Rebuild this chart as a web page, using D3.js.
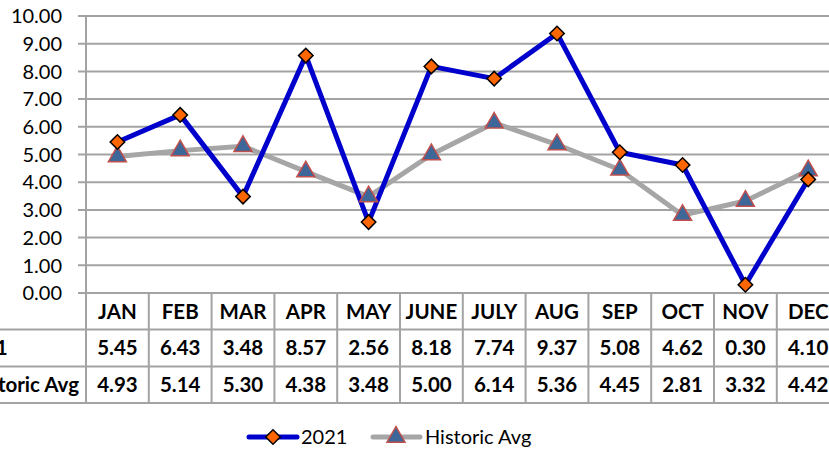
<!DOCTYPE html>
<html><head><meta charset="utf-8">
<script src="https://cdn.jsdelivr.net/npm/d3@7"></script>
<style>body{margin:0;background:#fff}svg{display:block}</style>
</head><body>
<svg id="c" width="829" height="450"></svg>
<script>
const categories = ["JAN","FEB","MAR","APR","MAY","JUNE","JULY","AUG","SEP","OCT","NOV","DEC"];
const values2021 = [5.45,6.43,3.48,8.57,2.56,8.18,7.74,9.37,5.08,4.62,0.30,4.10];
const valuesHist = [4.93,5.14,5.30,4.38,3.48,5.00,6.14,5.36,4.45,2.81,3.32,4.42];
const yTicks = [0,1,2,3,4,5,6,7,8,9,10];
const seriesNames = ["2021","Historic Avg"];

const svg = d3.select("#c");
const font = "Lato, 'Open Sans', sans-serif";
const grid = "#a3a3a3";
const left = 86, colW = 62.8;
const x = d3.scaleBand().domain(categories).range([left, left + colW*categories.length]);
const y = d3.scaleLinear().domain([0,10]).range([293,16]);

// gridlines
svg.append("g").selectAll("line").data(yTicks).join("line")
  .attr("x1",78).attr("x2",829).attr("y1",d=>y(d)).attr("y2",d=>y(d))
  .attr("stroke",grid).attr("stroke-width",2);
// y axis
svg.append("line").attr("x1",left).attr("x2",left).attr("y1",y(10)).attr("y2",403)
  .attr("stroke",grid).attr("stroke-width",2);
svg.append("g").selectAll("text").data(yTicks).join("text")
  .attr("x",62).attr("y",d=>y(d)).attr("dy","0.36em").attr("text-anchor","end")
  .attr("font-family",font).attr("font-size",20).attr("fill","#000")
  .text(d=>d3.format(".2f")(d));

// table
const rowY = [293,329.5,366.5,403];
svg.append("g").selectAll("line").data(rowY.slice(1)).join("line")
  .attr("x1",0).attr("x2",829).attr("y1",d=>d).attr("y2",d=>d)
  .attr("stroke",grid).attr("stroke-width",2);
svg.append("g").selectAll("line").data(categories).join("line")
  .attr("x1",d=>x(d)+colW).attr("x2",d=>x(d)+colW).attr("y1",293).attr("y2",403)
  .attr("stroke",grid).attr("stroke-width",2);
const tg = svg.append("g").attr("font-family",font).attr("font-weight","bold").attr("font-size",20.5).attr("text-anchor","middle");
tg.selectAll(".h").data(categories).join("text").attr("class","h")
  .attr("x",d=>x(d)+colW/2).attr("y",(rowY[0]+rowY[1])/2).attr("dy","0.36em").text(d=>d);
tg.selectAll(".a").data(values2021).join("text").attr("class","a")
  .attr("x",(d,i)=>x(categories[i])+colW/2).attr("y",(rowY[1]+rowY[2])/2).attr("dy","0.36em").text(d=>d.toFixed(2));
tg.selectAll(".b").data(valuesHist).join("text").attr("class","b")
  .attr("x",(d,i)=>x(categories[i])+colW/2).attr("y",(rowY[2]+rowY[3])/2).attr("dy","0.36em").text(d=>d.toFixed(2));
const hl = tg.append("text").attr("text-anchor","end").attr("x",79).attr("y",(rowY[2]+rowY[3])/2).attr("dy","0.36em").text(seriesNames[1]);
const startX = 79 - hl.node().getComputedTextLength() - 8;
tg.append("text").attr("text-anchor","start").attr("x",startX).attr("y",(rowY[1]+rowY[2])/2).attr("dy","0.36em").text(seriesNames[0]);

// lines
const cx = d=>x(d)+colW/2;
const line = d3.line().x((d,i)=>cx(categories[i])).y(d=>y(d));
svg.append("path").datum(valuesHist).attr("d",line).attr("fill","none").attr("stroke","#a6a6a6").attr("stroke-width",5).attr("stroke-linejoin","round");
svg.append("path").datum(values2021).attr("d",line).attr("fill","none").attr("stroke","#0000cc").attr("stroke-width",5).attr("stroke-linejoin","round");
const tri = d3.symbol().type(d3.symbolTriangle).size(140);
const dia = d3.symbol().type(d3.symbolSquare).size(105);
svg.append("g").selectAll("path").data(valuesHist).join("path")
  .attr("d",tri).attr("transform",(d,i)=>`translate(${cx(categories[i])},${y(d)})`)
  .attr("fill","#3d6699").attr("stroke","#c0504d").attr("stroke-width",1.5);
svg.append("g").selectAll("path").data(values2021).join("path")
  .attr("d",dia).attr("transform",(d,i)=>`translate(${cx(categories[i])},${y(d)}) rotate(45)`)
  .attr("fill","#ff6600").attr("stroke","#000").attr("stroke-width",1.5);

// legend
const lg = svg.append("g").attr("font-family",font).attr("font-size",20);
lg.append("line").attr("x1",249).attr("x2",297).attr("y1",437).attr("y2",437).attr("stroke","#0000cc").attr("stroke-width",5).attr("stroke-linecap","round");
lg.append("path").attr("d",dia).attr("transform","translate(273,437) rotate(45)").attr("fill","#ff6600").attr("stroke","#000").attr("stroke-width",1.5);
lg.append("text").attr("x",301).attr("y",437).attr("dy","0.36em").text(seriesNames[0]);
lg.append("line").attr("x1",373).attr("x2",420).attr("y1",437).attr("y2",437).attr("stroke","#a6a6a6").attr("stroke-width",5).attr("stroke-linecap","round");
lg.append("path").attr("d",tri).attr("transform","translate(396,437)").attr("fill","#3d6699").attr("stroke","#c0504d").attr("stroke-width",1.5);
lg.append("text").attr("x",425).attr("y",437).attr("dy","0.36em").text(seriesNames[1]);
</script>
</body></html>
